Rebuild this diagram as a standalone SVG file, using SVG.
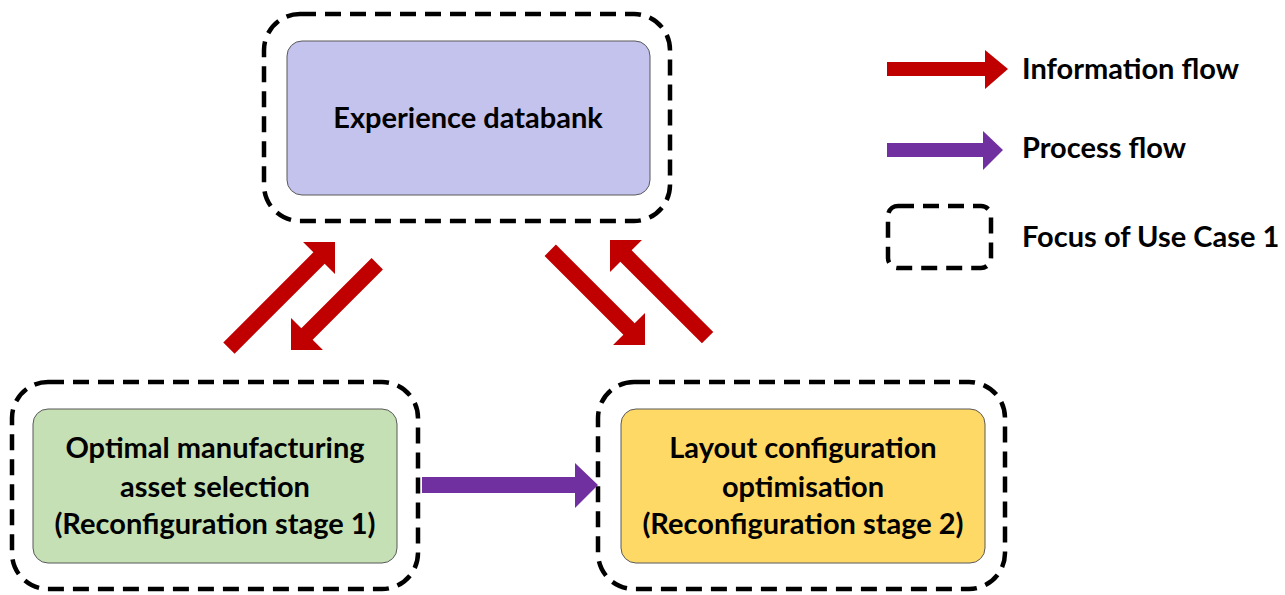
<svg xmlns="http://www.w3.org/2000/svg" width="1285" height="595" viewBox="0 0 1285 595">
<style>
.focus{fill:none;stroke:#000;stroke-width:4.5;stroke-dasharray:16 9}
.box{stroke:#595959;stroke-width:1}
.t{font-family:Lato,"Open Sans","Liberation Sans",sans-serif;font-weight:bold;font-size:29px;fill:#000;text-anchor:middle}
.lt{font-family:Lato,"Open Sans","Liberation Sans",sans-serif;font-weight:bold;font-size:29px;fill:#000}
.red{fill:#C00000}
.pur{fill:#7030A0}
</style>
<rect width="1285" height="595" fill="#fff"/>
<g id="databank">
<rect class="focus" x="264" y="14" width="406" height="207" rx="36"/>
<rect class="box" x="287" y="41" width="363" height="154" rx="15" fill="#C3C3EE"/>
<text class="t" x="468" y="128">Experience databank</text>
</g>
<g id="stage1">
<rect class="focus" x="12" y="382" width="406" height="207" rx="36"/>
<rect class="box" x="33" y="409" width="364" height="154" rx="15" fill="#C5E0B4"/>
<text class="t" x="215" y="458">Optimal manufacturing</text>
<text class="t" x="215" y="497">asset selection</text>
<text class="t" x="215" y="534">(Reconfiguration stage 1)</text>
</g>
<g id="stage2">
<rect class="focus" x="598" y="382" width="407" height="207" rx="36"/>
<rect class="box" x="621" y="409" width="364" height="154" rx="15" fill="#FFD966"/>
<text class="t" x="803" y="458">Layout configuration</text>
<text class="t" x="803" y="497">optimisation</text>
<text class="t" x="803" y="534">(Reconfiguration stage 2)</text>
</g>
<g id="connectors">
<polygon class="red" transform="translate(335,242) rotate(-45)" points="-150,-8 -22.6,-8 -22.6,-22.6 0,0 -22.6,22.6 -22.6,8 -150,8"/>
<polygon class="red" transform="translate(291,350) rotate(135)" points="-122,-8 -22.6,-8 -22.6,-22.6 0,0 -22.6,22.6 -22.6,8 -122,8"/>
<polygon class="red" transform="translate(645,345) rotate(45)" points="-134,-8 -22.6,-8 -22.6,-22.6 0,0 -22.6,22.6 -22.6,8 -134,8"/>
<polygon class="red" transform="translate(610,240) rotate(-135)" points="-138,-8 -22.6,-8 -22.6,-22.6 0,0 -22.6,22.6 -22.6,8 -138,8"/>
<polygon class="pur" points="422,477 575,477 575,463 598,485 575,508 575,493 422,493"/>
</g>
<g id="legend">
<polygon class="red" points="887,62 985,62 985,50 1008,69 985,89 985,76 887,76"/>
<text class="lt" x="1022" y="79">Information flow</text>
<polygon class="pur" points="887,143 983,143 983,131 1003,150 983,170 983,157 887,157"/>
<text class="lt" x="1022" y="158">Process flow</text>
<rect class="focus" x="888" y="206" width="103" height="62" rx="10"/>
<text class="lt" x="1022" y="247">Focus of Use Case 1</text>
</g>
</svg>
